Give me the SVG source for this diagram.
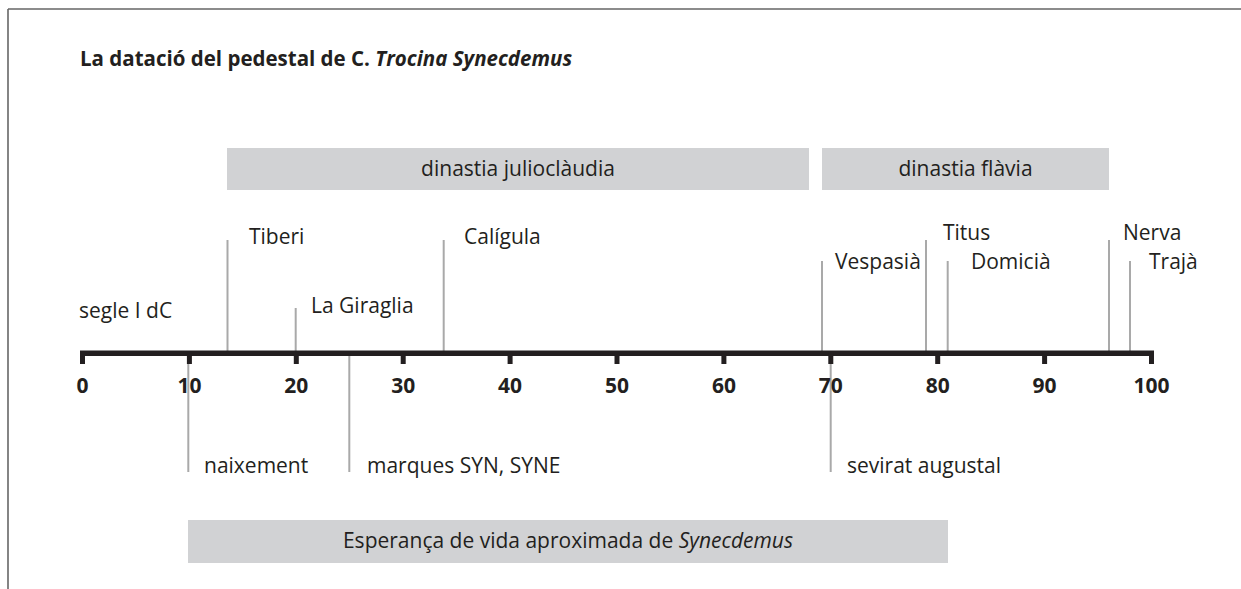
<svg xmlns="http://www.w3.org/2000/svg" width="1241" height="589" viewBox="0 0 1241 589">
<style>
text{font-family:"Open Sans","Noto Sans","DejaVu Sans",sans-serif;fill:#231f20}
.lbl{font-size:21px}
.num{font-size:21px;font-weight:bold;text-anchor:middle}
.bar{fill:#d1d2d4}
.mk{stroke:#a9a9a9;stroke-width:2;fill:none}
.tick{stroke:#231f20;stroke-width:5;fill:none}
</style>
<rect width="1241" height="589" fill="#fff"/>
<g id="frame" fill="none" stroke="#666" stroke-width="1.6">
<line x1="8" y1="9" x2="1241" y2="9"/>
<line x1="8" y1="9" x2="8" y2="589"/>
</g>
<text id="title" x="80" y="66" style="font-size:20.5px;font-weight:bold">La datació del pedestal de C. <tspan font-style="italic">Trocina Synecdemus</tspan></text>
<g id="bar-julio"><rect class="bar" x="227" y="148" width="582" height="42"/><text class="lbl" x="518" y="176" text-anchor="middle">dinastia julioclàudia</text></g>
<g id="bar-flavia"><rect class="bar" x="822" y="148" width="287" height="42"/><text class="lbl" x="965.5" y="176" text-anchor="middle">dinastia flàvia</text></g>
<g id="bar-vida"><rect class="bar" x="188" y="520" width="760" height="43"/><text class="lbl" x="568" y="548" text-anchor="middle">Esperança de vida aproximada de <tspan font-style="italic">Synecdemus</tspan></text></g>
<g id="connectors">
<line class="mk" x1="227.5" y1="240" x2="227.5" y2="352"/>
<line class="mk" x1="295.7" y1="308" x2="295.7" y2="352"/>
<line class="mk" x1="443.7" y1="240" x2="443.7" y2="352"/>
<line class="mk" x1="822" y1="261" x2="822" y2="352"/>
<line class="mk" x1="926" y1="240" x2="926" y2="352"/>
<line class="mk" x1="947.7" y1="261" x2="947.7" y2="352"/>
<line class="mk" x1="1109" y1="240" x2="1109" y2="352"/>
<line class="mk" x1="1130" y1="261" x2="1130" y2="352"/>
<line class="mk" x1="188.3" y1="356" x2="188.3" y2="472"/>
<line class="mk" x1="349.3" y1="356" x2="349.3" y2="472"/>
<line class="mk" x1="830.7" y1="356" x2="830.7" y2="472"/>
</g>
<g id="axis">
<line x1="80" y1="353.2" x2="1154" y2="353.2" stroke="#231f20" stroke-width="5.5"/>
<path class="tick" d="M82.5 353V364M189.4 353V364M296.3 353V364M403.2 353V364M510.1 353V364M617 353V364M723.9 353V364M830.8 353V364M937.7 353V364M1044.6 353V364M1151.5 353V364"/>
<text class="num" x="82.5" y="393">0</text>
<text class="num" x="189.4" y="393">10</text>
<text class="num" x="296.3" y="393">20</text>
<text class="num" x="403.2" y="393">30</text>
<text class="num" x="510.1" y="393">40</text>
<text class="num" x="617" y="393">50</text>
<text class="num" x="723.9" y="393">60</text>
<text class="num" x="830.8" y="393">70</text>
<text class="num" x="937.7" y="393">80</text>
<text class="num" x="1044.6" y="393">90</text>
<text class="num" x="1151.5" y="393">100</text>
</g>
<g id="labels">
<text id="segle" class="lbl" x="79" y="318">segle I dC</text>
<text id="tiberi" class="lbl" x="249" y="244">Tiberi</text>
<text id="giraglia" class="lbl" x="311" y="313">La Giraglia</text>
<text id="caligula" class="lbl" x="464" y="244">Calígula</text>
<text id="vespasia" class="lbl" x="835" y="269">Vespasià</text>
<text id="titus" class="lbl" x="943" y="240">Titus</text>
<text id="domicia" class="lbl" x="971" y="269">Domicià</text>
<text id="nerva" class="lbl" x="1123" y="240">Nerva</text>
<text id="traja" class="lbl" x="1149" y="269">Trajà</text>
<text id="naixement" class="lbl" x="204" y="473">naixement</text>
<text id="marques" class="lbl" x="367" y="473">marques SYN, SYNE</text>
<text id="sevirat" class="lbl" x="847" y="473">sevirat augustal</text>
</g>
</svg>
